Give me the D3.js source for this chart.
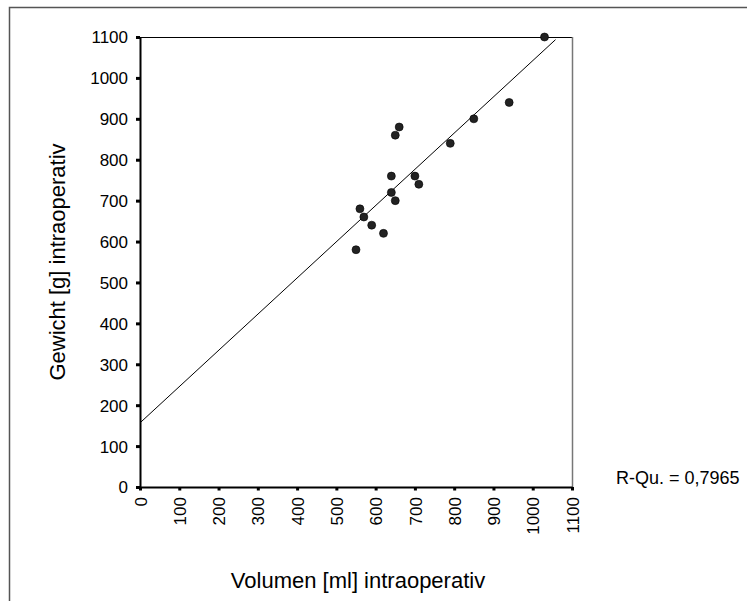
<!DOCTYPE html>
<html><head><meta charset="utf-8">
<script src="https://cdn.jsdelivr.net/npm/d3@7"></script>
<style>body{margin:0;background:#fff}svg{display:block}text{font-family:"Liberation Sans",Arial,sans-serif;fill:#000}</style>
</head><body><svg id="c" width="747" height="601"></svg>
<script>
const volumen = [940, 850, 790, 660, 650, 640, 700, 710, 640, 650, 560, 570, 590, 620, 550, 1030];
const gewicht = [940, 900, 840, 880, 860, 760, 760, 740, 720, 700, 680, 660, 640, 620, 580, 1100];
const xTicks = [0,100,200,300,400,500,600,700,800,900,1000,1100];
const yTicks = [0,100,200,300,400,500,600,700,800,900,1000,1100];
const xLabel = "Volumen [ml] intraoperativ";
const yLabel = "Gewicht [g] intraoperativ";
const rText = "R-Qu. = 0,7965";

const svg = d3.select("#c");
const L=140, R=572, T=37, B=487;
const x = d3.scaleLinear().domain([0,1100]).range([L,R]);
const y = d3.scaleLinear().domain([0,1100]).range([B,T]);
const fmt = d3.format("d");

// outer frame (cut by window)
svg.append("path").attr("d",`M9.5,605V7.5H752`).attr("fill","none").attr("stroke","#555").attr("stroke-width",1.5);

// plot border top/right
svg.append("line").attr("x1",L).attr("x2",R).attr("y1",T+0.5).attr("y2",T+0.5).attr("stroke","#000").attr("stroke-width",1.2);
svg.append("line").attr("x1",R+0.5).attr("x2",R+0.5).attr("y1",T).attr("y2",B).attr("stroke","#777").attr("stroke-width",1.5);

// regression line (least squares from data)
const n=volumen.length, mx=d3.mean(volumen), my=d3.mean(gewicht);
let sxy=0,sxx=0; for(let i=0;i<n;i++){sxy+=(volumen[i]-mx)*(gewicht[i]-my);sxx+=(volumen[i]-mx)**2;}
const b=sxy/sxx, a=my-b*mx;
const x0=0, x1=1058;
svg.append("line").attr("x1",x(x0)).attr("y1",y(a+b*x0)).attr("x2",x(x1)).attr("y2",y(a+b*x1)).attr("stroke","#000").attr("stroke-width",1);

// axes
const ax = svg.append("g").attr("transform",`translate(0,${B})`).call(d3.axisBottom(x).tickValues(xTicks).tickFormat(fmt).tickSize(0).tickPadding(0));
ax.select(".domain").attr("stroke","#000").attr("stroke-width",2);
ax.selectAll(".tick").append("rect").attr("x",-1.5).attr("y",0).attr("width",3).attr("height",3.5).attr("fill","#000");
ax.selectAll(".tick text").attr("transform","rotate(-90)").attr("x",-10).attr("y",0).attr("dy","0.36em").attr("text-anchor","end").attr("font-size",17).attr("font-family","Liberation Sans, Arial, sans-serif");

const ay = svg.append("g").attr("transform",`translate(${L},0)`).call(d3.axisLeft(y).tickValues(yTicks).tickFormat(fmt).tickSize(0).tickPadding(12));
ay.select(".domain").attr("stroke","#000").attr("stroke-width",2);
ay.selectAll(".tick").append("rect").attr("x",-4).attr("y",-1.5).attr("width",4).attr("height",3).attr("fill","#000");
ay.selectAll(".tick text").attr("font-size",17).attr("dy","0.35em").attr("font-family","Liberation Sans, Arial, sans-serif");

// points
svg.append("g").selectAll("circle").data(volumen).join("circle")
  .attr("cx",(d)=>x(d)).attr("cy",(d,i)=>y(gewicht[i])).attr("r",4)
  .attr("fill","#222").attr("stroke","#000").attr("stroke-width",0.6);

// labels
svg.append("text").attr("x",358).attr("y",588).attr("text-anchor","middle").attr("font-size",22).text(xLabel);
svg.append("text").attr("transform","translate(65,262) rotate(-90)").attr("text-anchor","middle").attr("font-size",22).text(yLabel);
svg.append("text").attr("x",616).attr("y",484).attr("font-size",18).text(rText);
</script></body></html>
